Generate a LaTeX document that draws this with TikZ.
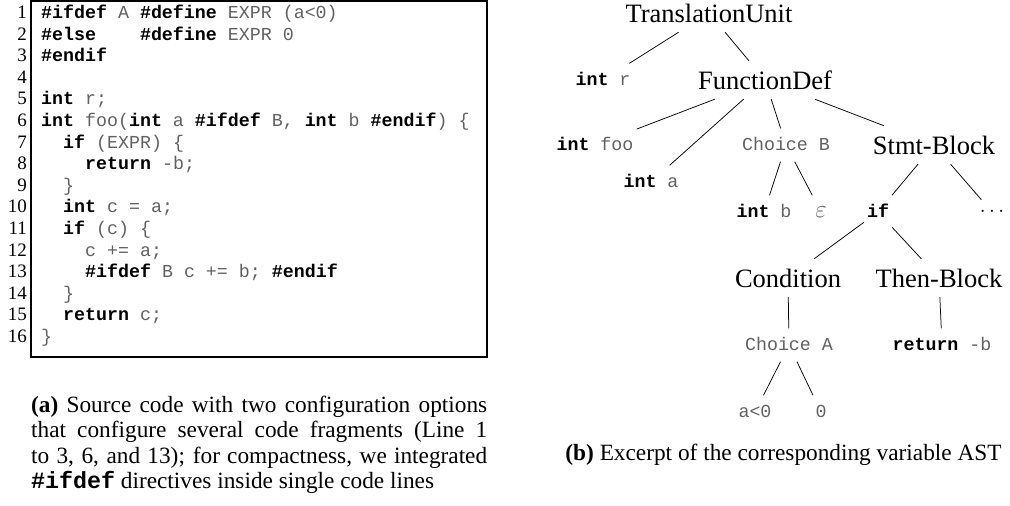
\documentclass[tikz,border=0pt]{standalone}
\usepackage{fontspec}
\setmainfont{Liberation Serif}
\setmonofont{Liberation Mono}
\definecolor{codegray}{gray}{0.38}
% keywords in the listing are bold and black
\newcommand\kw[1]{{\bfseries\color{black}#1}}
\begin{document}
\begin{tikzpicture}[x=1pt,y=-1pt,
  codeline/.style={anchor=base west, inner sep=0pt, text=codegray,
    font=\fontsize{18.3}{20}\ttfamily},
  lineno/.style={anchor=base east, inner sep=0pt, font=\fontsize{19}{20}\selectfont},
  capline/.style={anchor=base west, inner sep=0pt, font=\fontsize{23.3}{25}\selectfont},
  bignode/.style={font=\fontsize{26.5}{28}\selectfont, text height=18pt, text depth=0pt,
    minimum height=38pt, inner xsep=3pt, inner ysep=0pt},
  leafnode/.style={font=\fontsize{18.3}{20}\ttfamily, text=codegray, text height=11pt,
    text depth=0pt, minimum height=33pt, inner xsep=3pt, inner ysep=0pt},
  treeedge/.style={line width=0.75pt}
]
\useasboundingbox (0,0) rectangle (1010,506);

% ---------- (a) listing ----------
\draw[line width=1.1pt] (31,1) rectangle (487,357);
\foreach \i in {1,...,16}
  \node[lineno] (n\i) at (27,{18.5+21.6*(\i-1)}) {\i};

\node[codeline] (l1)  at (41,18.5)  {\kw{\#ifdef} A \kw{\#define} EXPR (a<0)};
\node[codeline] (l2)  at (41,40.1)  {\kw{\#else}~~~~\kw{\#define} EXPR 0};
\node[codeline] (l3)  at (41,61.7)  {\kw{\#endif}};
\node[codeline] (l5)  at (41,104.9) {\kw{int} r;};
\node[codeline] (l6)  at (41,126.5) {\kw{int} foo(\kw{int} a \kw{\#ifdef} B, \kw{int} b \kw{\#endif}) \{};
\node[codeline] (l7)  at (63,148.1) {\kw{if} (EXPR) \{};
\node[codeline] (l8)  at (85,169.7) {\kw{return} -b;};
\node[codeline] (l9)  at (63,191.3) {\}};
\node[codeline] (l10) at (63,212.9) {\kw{int} c = a;};
\node[codeline] (l11) at (63,234.5) {\kw{if} (c) \{};
\node[codeline] (l12) at (85,256.1) {c += a;};
\node[codeline] (l13) at (85,277.7) {\kw{\#ifdef} B c += b; \kw{\#endif}};
\node[codeline] (l14) at (63,299.3) {\}};
\node[codeline] (l15) at (63,320.9) {\kw{return} c;};
\node[codeline] (l16) at (41,342.5) {\}};

% caption (a), set line by line and justified
\node[capline] (ca1) at (31,412) {\makebox[456pt][s]{\textbf{(a)} Source code with two configuration options}};
\node[capline] (ca2) at (31,437.5) {\makebox[456pt][s]{that configure several code fragments (Line 1}};
\node[capline] (ca3) at (31,463) {\makebox[456pt][s]{to 3, 6, and 13); for compactness, we integrated}};
\node[capline] (ca4) at (31,488.5) {\texttt{\textbf{\#ifdef}} directives inside single code lines};

% ---------- (b) variable AST ----------
\node[bignode]  (tu)    at (709,13)  {TranslationUnit};
\node[leafnode] (intr)  at (603,80)  {\kw{int} r};
\node[bignode]  (fd)    at (765,80)  {FunctionDef};
\node[leafnode] (intfoo) at (595,145) {\kw{int} foo};
\node[leafnode] (inta)  at (651,182) {\kw{int} a};
\node[leafnode] (chb)   at (786,145) {Choice B};
\node[bignode]  (sb)    at (934,145) {Stmt-Block};
\node[leafnode] (intb)  at (764,212) {\kw{int} b};
\node[leafnode] (eps)   at (821,212) {\fontsize{25}{26}\selectfont$\varepsilon$};
\node[leafnode] (ifn)   at (878,212) {\kw{if}};
\node[inner sep=0pt, minimum height=24pt, font=\fontsize{20}{22}\selectfont] (dots) at (992,212) {$\cdots$};
\node[bignode]  (cond)  at (788,278) {Condition};
\node[bignode]  (thenb) at (939,278) {Then-Block};
\node[leafnode] (cha)   at (789,345) {Choice A};
\node[leafnode] (ret)   at (942,345) {\kw{return} -b};
\node[leafnode] (alt)   at (755,412) {a<0};
\node[leafnode] (zero)  at (821,412) {0};

\draw[treeedge] (tu) -- (intr);
\draw[treeedge] (tu) -- (fd);
\draw[treeedge] (fd) -- (intfoo);
\draw[treeedge] (fd) -- (inta);
\draw[treeedge] (fd) -- (chb);
\draw[treeedge] (fd) -- (sb);
\draw[treeedge] (chb) -- (intb);
\draw[treeedge] (chb) -- (eps);
\draw[treeedge] (sb) -- (ifn);
\draw[treeedge] (sb) -- (dots);
\draw[treeedge] (ifn) -- (cond);
\draw[treeedge] (ifn) -- (thenb);
\draw[treeedge] (cond) -- (cha);
\draw[treeedge] (thenb) -- (ret);
\draw[treeedge] (cha) -- (alt);
\draw[treeedge] (cha) -- (zero);

\node[capline, anchor=base] (cb) at (783.5,460) {\textbf{(b)} Excerpt of the corresponding variable AST};
\end{tikzpicture}
\end{document}
